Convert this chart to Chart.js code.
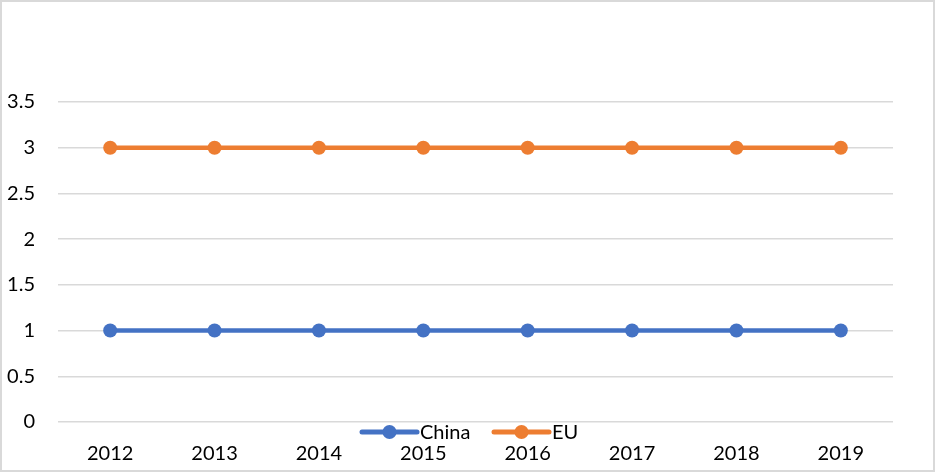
<!DOCTYPE html>
<html lang="en">
<head>
<meta charset="utf-8">
<title>China vs EU</title>
<script src="https://cdn.jsdelivr.net/npm/chart.js@4.4.0/dist/chart.umd.min.js"></script>
<style>
  body { margin: 0; background: #fff; }
  #wrap { width: 935px; height: 472px; position: relative; }
</style>
</head>
<body>
<div id="wrap"><canvas id="myChart"></canvas></div>
<script>
// data
const years = ['2012', '2013', '2014', '2015', '2016', '2017', '2018', '2019'];
const chinaVals = [1, 1, 1, 1, 1, 1, 1, 1];
const euVals = [3, 3, 3, 3, 3, 3, 3, 3];
const yTicks = [0, 0.5, 1, 1.5, 2, 2.5, 3, 3.5];

const FONT = "Lato, 'Open Sans', sans-serif";

// legend drawn over the x labels, like the original
const overlayLegend = {
  id: 'overlayLegend',
  afterDraw(chart) {
    const ctx = chart.ctx;
    ctx.save();
    // outer frame
    ctx.strokeStyle = '#d9d9d9';
    ctx.lineWidth = 2;
    ctx.strokeRect(1, 1, chart.width - 2, chart.height - 2);

    const items = [{x: 362}, {x: 494}];
    chart.data.datasets.forEach((ds, i) => {
      const x0 = items[i].x, y = 432;
      ctx.strokeStyle = ds.borderColor;
      ctx.lineWidth = 5;
      ctx.lineCap = 'round';
      ctx.beginPath();
      ctx.moveTo(x0, y);
      ctx.lineTo(x0 + 55, y);
      ctx.stroke();
      ctx.fillStyle = ds.backgroundColor;
      ctx.beginPath();
      ctx.arc(x0 + 27.5, y, 7, 0, Math.PI * 2);
      ctx.fill();
      ctx.fillStyle = '#000';
      ctx.font = '20px ' + FONT;
      ctx.textBaseline = 'middle';
      ctx.fillText(ds.label, x0 + 58, y + 1);
    });
    ctx.restore();
  }
};

new Chart(document.getElementById('myChart'), {
  type: 'line',
  data: {
    labels: years,
    datasets: [
      {
        label: 'China',
        data: chinaVals,
        borderColor: '#4472C4',
        backgroundColor: '#4472C4',
        borderWidth: 4.5,
        pointRadius: 7,
        pointHoverRadius: 7,
        pointBorderWidth: 0
      },
      {
        label: 'EU',
        data: euVals,
        borderColor: '#ED7D31',
        backgroundColor: '#ED7D31',
        borderWidth: 4.5,
        pointRadius: 7,
        pointHoverRadius: 7,
        pointBorderWidth: 0
      }
    ]
  },
  options: {
    responsive: true,
    maintainAspectRatio: false,
    animation: false,
    layout: { padding: { top: 102, right: 42, left: 0, bottom: 0 } },
    scales: {
      x: {
        offset: true,
        grid: { display: false, drawTicks: false },
        border: { display: false },
        ticks: { color: '#000', font: { family: FONT, size: 20 }, padding: 20, maxRotation: 0 },
        afterFit(scale) { scale.height = 50; }
      },
      y: {
        min: 0,
        max: 3.5,
        afterBuildTicks(scale) { scale.ticks = yTicks.map(v => ({ value: v })); },
        grid: { color: '#d9d9d9', lineWidth: 1.5, drawTicks: false },
        border: { display: false },
        ticks: {
          color: '#000', font: { family: FONT, size: 20 }, padding: 23,
          callback: v => String(v)
        },
        afterFit(scale) { scale.width = 58; }
      }
    },
    plugins: {
      legend: { display: false },
      tooltip: { enabled: false }
    }
  },
  plugins: [overlayLegend]
});
</script>
</body>
</html>
